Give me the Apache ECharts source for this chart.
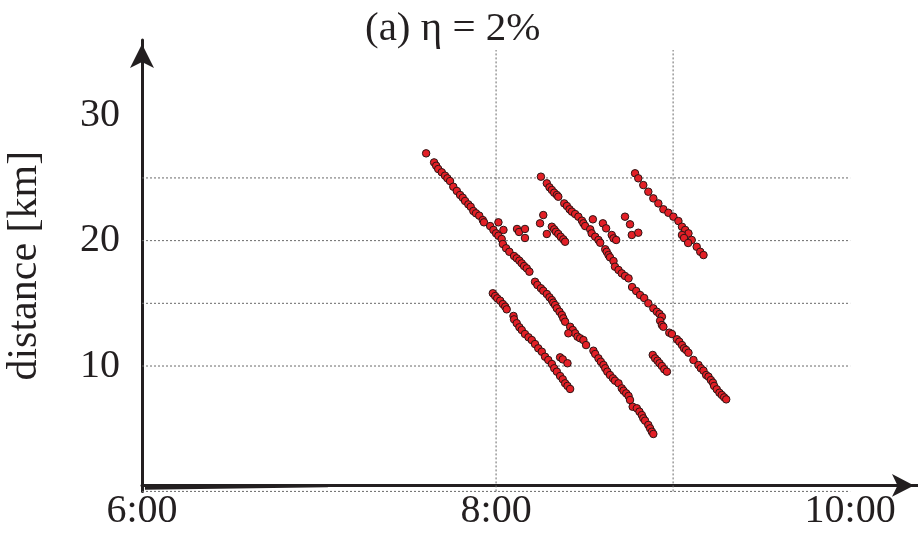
<!DOCTYPE html>
<html><head><meta charset="utf-8">
<script src="https://cdn.jsdelivr.net/npm/echarts@6/dist/echarts.min.js"></script>
<style>html,body{margin:0;padding:0;background:#fff}#c{width:918px;height:541px}</style>
</head><body><div id="c"></div>
<script>
// time in minutes after midnight, distance in km
const xTickLabels = ['6:00', '8:00', '10:00'];
const yTickLabels = [10, 20, 30];
const hGridKm = [0, 10, 15, 20, 25];
const vGridMin = [480, 540];
const lineA = [[456.3,26.96],[459.0,26.24],[459.7,25.97],[460.4,25.71],[461.6,25.45],[462.7,25.18],[463.5,24.97],[464.4,24.75],[465.5,24.30],[466.7,23.96],[467.8,23.64],[468.7,23.42],[469.5,23.16],[470.6,22.89],[471.4,22.70],[472.3,22.36],[473.2,22.18],[474.3,21.99],[475.5,21.64],[475.9,21.46],[478.0,21.16],[479.1,20.85],[480.0,20.58],[480.8,20.39],[481.9,20.13],[482.3,19.73],[483.4,19.39],[484.5,19.11],[486.1,18.77],[487.0,18.59],[487.9,18.40],[488.7,18.19],[489.5,17.97],[490.4,17.79],[491.3,17.52],[493.2,16.72],[494.0,16.46],[495.2,16.20],[496.0,16.00],[497.2,15.74],[498.1,15.48],[498.9,15.26],[499.4,15.05],[500.0,14.86],[500.6,14.60],[501.5,14.33],[502.3,14.07],[502.8,13.80],[503.4,13.53],[505.1,13.13],[506.0,12.87],[506.8,12.61],[507.6,12.34],[508.5,12.21],[509.6,12.07],[510.5,11.67],[513.0,11.22],[513.6,10.96],[514.7,10.61],[515.5,10.34],[516.4,10.08],[517.0,9.82],[517.7,9.55],[518.6,9.28],[519.6,9.02],[520.3,8.83],[521.5,8.62],[522.6,8.22],[523.2,8.03],[524.1,7.82],[524.9,7.61],[525.4,7.29],[526.3,6.75],[527.7,6.63],[528.6,6.36],[529.4,6.09],[529.9,5.83],[530.5,5.64],[531.6,5.30],[532.2,5.03],[532.8,4.76],[533.3,4.58]];
const lineB = [[478.9,15.80],[479.7,15.58],[480.4,15.40],[481.4,15.21],[482.3,14.94],[483.1,14.73],[483.6,14.52],[485.9,13.99],[486.1,13.72],[487.0,13.41],[487.9,13.09],[488.7,12.87],[489.8,12.55],[491.0,12.29],[492.1,12.07],[493.2,11.75],[494.3,11.41],[495.5,11.14],[496.6,10.74],[497.7,10.48],[498.9,10.16],[499.7,9.82],[500.6,9.55],[501.7,9.20],[502.6,8.94],[503.4,8.62],[504.2,8.41],[505.1,8.17]];
const lineC = [[495.2,25.10],[497.2,24.57],[498.1,24.25],[498.9,24.04],[499.7,23.82],[500.6,23.64],[501.1,23.50],[503.1,22.97],[504.0,22.76],[504.9,22.50],[505.7,22.31],[506.8,22.12],[507.9,21.91],[509.1,21.59],[509.6,21.38],[510.2,21.16],[511.9,20.90],[512.4,20.58],[513.6,20.31],[514.7,20.05],[515.3,19.83],[517.0,19.31],[517.5,19.11],[518.1,18.85],[518.6,18.67],[519.8,18.37],[520.3,17.92],[521.5,17.66],[522.6,17.39],[523.7,17.18],[524.9,16.99],[526.1,16.30],[527.5,15.98],[528.8,15.66],[530.2,15.42],[531.6,15.00],[533.3,14.60],[534.5,14.33],[535.4,14.15],[536.2,13.93],[535.6,13.61],[536.2,13.27],[536.7,13.13],[538.7,12.66],[539.6,12.55],[541.3,12.13],[542.1,11.94],[543.0,11.67],[543.7,11.41],[544.4,11.28],[545.2,11.06],[546.9,10.48],[548.6,10.08],[549.4,9.82],[550.3,9.63],[551.2,9.28],[552.0,9.15],[552.8,8.88],[553.5,8.67],[553.9,8.41],[554.8,8.14],[555.7,7.87],[556.5,7.69],[557.3,7.50],[558.0,7.34]];
const segD = [[498.9,21.11],[499.7,20.90],[500.3,20.71],[501.1,20.53],[501.9,20.31],[502.8,20.10],[503.4,19.91]];
const segG = [[533.1,10.88],[533.9,10.61],[534.7,10.42],[535.4,10.22],[536.2,10.00],[537.0,9.74],[537.9,9.55]];
const lineF = [[527.1,25.37],[528.2,24.97],[529.9,24.43],[531.6,23.90],[533.3,23.37],[535.0,22.97],[536.7,22.50],[538.4,22.22],[540.1,21.91],[541.8,21.56],[543.0,21.11],[544.1,20.85],[545.2,20.58],[546.3,20.05],[548.0,19.51],[549.2,19.11],[550.3,18.85]];
const strayPoints = [[480.8,21.46],[482.5,20.85],[487.1,20.93],[487.8,20.69],[489.8,20.93],[489.8,20.21],[496.0,22.04],[494.9,21.38],[497.2,20.53],[512.8,21.70],[516.2,21.38],[517.3,20.98],[519.2,20.45],[519.8,20.18],[520.7,20.05],[523.7,21.91],[525.4,21.30],[526.0,20.45],[528.2,20.63],[543.0,20.45],[543.7,20.21],[545.1,19.81],[501.7,10.69],[502.6,10.53],[504.2,10.22],[504.5,12.61]];
const baseWedge = [[361,0.57],[423,0.45],[423,0.33],[361,0.14]];

const allPoints = [].concat(lineA, lineB, lineC, segD, segG, lineF, strayPoints);
const ink = '#231f20';
const font = 'Liberation Serif';

// grid segments built from the grid values: [x1, y1, x2, y2]
const gridSegs = [];
hGridKm.forEach(k => gridSegs.push([360, k, 600, k]));
vGridMin.forEach(t => gridSegs.push([t, 0, t, 35.2]));

const chart = echarts.init(document.getElementById('c'));
chart.setOption({
  animation: false,
  title: { text: '(a) η = 2%', left: 360, top: 4,
    textStyle: { fontFamily: font, fontSize: 41, fontWeight: 'normal', color: ink } },
  grid: { left: 142, right: 0, top: 40, bottom: 49.6, outerBoundsMode: 'none', containLabel: false },
  xAxis: { type: 'value', min: 360, max: 623, interval: 120, offset: -6,
    axisLine: { onZero: false, lineStyle: { color: ink, width: 3 }, symbol: ['none','arrow'], symbolSize: [17, 22], symbolOffset: [0, -4] },
    axisTick: { show: false }, splitLine: { show: false },
    axisLabel: { showMaxLabel: false, margin: 6, fontFamily: font, fontSize: 40, color: ink,
      formatter: v => xTickLabels[Math.round((v-360)/120)] || '' } },
  yAxis: { type: 'value', min: 0, max: 36, interval: 10,
    name: 'distance [km]', nameLocation: 'middle', nameGap: 96, nameRotate: 90,
    nameTextStyle: { fontFamily: font, fontSize: 42, color: ink },
    axisLine: { lineStyle: { color: ink, width: 3 }, symbol: ['none','arrow'], symbolSize: [18, 24], symbolOffset: [0, -4] },
    axisTick: { show: false }, splitLine: { show: false },
    axisLabel: { showMinLabel: false, showMaxLabel: false, margin: 22, fontFamily: font, fontSize: 40, color: ink,
      formatter: v => (yTickLabels.indexOf(v) >= 0 ? String(v) : '') } },
  series: [
    { type: 'custom', silent: true, clip: false, z: 1, data: gridSegs,
      renderItem: (params, api) => {
        const p1 = api.coord([api.value(0), api.value(1)]);
        const p2 = api.coord([api.value(2), api.value(3)]);
        return { type: 'line', shape: { x1: p1[0], y1: p1[1], x2: p2[0], y2: p2[1] },
          style: { stroke: '#6a6a6a', lineWidth: 1, lineDash: [2, 2] } };
      } },
    { type: 'custom', silent: true, data: [0], clip: false,
      renderItem: (params, api) => ({ type: 'polygon',
        shape: { points: baseWedge.map(p => api.coord(p)) }, style: { fill: ink } }) },
    { type: 'scatter', data: allPoints, symbol: 'circle', symbolSize: 7.5, z: 3,
      itemStyle: { color: '#e21f26', borderColor: '#2a1414', borderWidth: 1, opacity: 1 } }
  ]
});
</script></body></html>
